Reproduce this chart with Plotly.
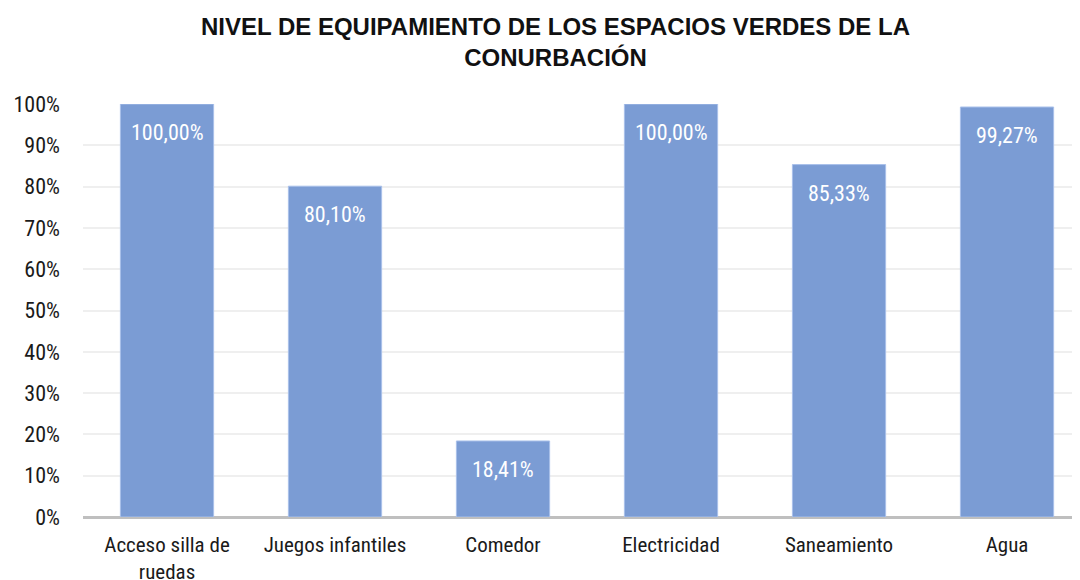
import plotly.graph_objects as go

categories = ["Acceso silla de<br>ruedas", "Juegos infantiles", "Comedor",
              "Electricidad", "Saneamiento", "Agua"]
values = [1.0, 0.8010, 0.1841, 1.0, 0.8533, 0.9927]
y_ticks = [0, 0.1, 0.2, 0.3, 0.4, 0.5, 0.6, 0.7, 0.8, 0.9, 1.0]
title_text = "NIVEL DE EQUIPAMIENTO DE LOS ESPACIOS VERDES DE LA<br>CONURBACIÓN"

FONT = "Roboto Condensed, Liberation Sans Narrow, sans-serif"
TITLE_FONT = "Liberation Sans, Arial, sans-serif"
BAR = "#7b9cd4"

# page body adds an 8px offset; margins compensate for it
L, T, B = 75, 96, 71

fig = go.Figure()
fig.add_trace(go.Bar(
    x=list(range(len(categories))), y=values,
    marker=dict(color=BAR, line=dict(color="#a9c0ea", width=1)),
    width=0.555, hoverinfo="skip",
))

for i, v in enumerate(values):
    fig.add_annotation(
        x=i, y=v, text=f"{v*100:.2f}%".replace(".", ","),
        showarrow=False, yanchor="top", yshift=-14,
        font=dict(family=FONT, size=22, color="white"),
    )

fig.add_annotation(
    xref="paper", yref="paper", x=0.4706, y=1.149,
    xanchor="center", yanchor="middle", showarrow=False,
    text=f"<b>{title_text}</b>",
    font=dict(family=TITLE_FONT, size=24, color="#111111"),
)

fig.update_layout(
    width=1080, height=580,
    margin=dict(l=L, r=0, t=T, b=B),
    paper_bgcolor="white", plot_bgcolor="white",
    showlegend=False,
    separators=",.",
)
fig.update_xaxes(
    tickmode="array", tickvals=list(range(len(categories))), ticktext=categories,
    range=[-0.5, 5.482], showgrid=False, zeroline=False,
    showline=False, ticks="", ticklabelstandoff=13,
    tickfont=dict(family=FONT, size=21, color="#1a1a1a"),
)
fig.update_yaxes(
    range=[0, 1.0], tickvals=y_ticks, tickformat=".0%",
    showgrid=True, gridcolor="#efefef", gridwidth=1.5,
    zeroline=True, zerolinecolor="#bfbfbf", zerolinewidth=2.5,
    ticks="", ticklabelstandoff=22,
    tickfont=dict(family=FONT, size=22, color="#1a1a1a"),
)
fig.write_html("out.html")
